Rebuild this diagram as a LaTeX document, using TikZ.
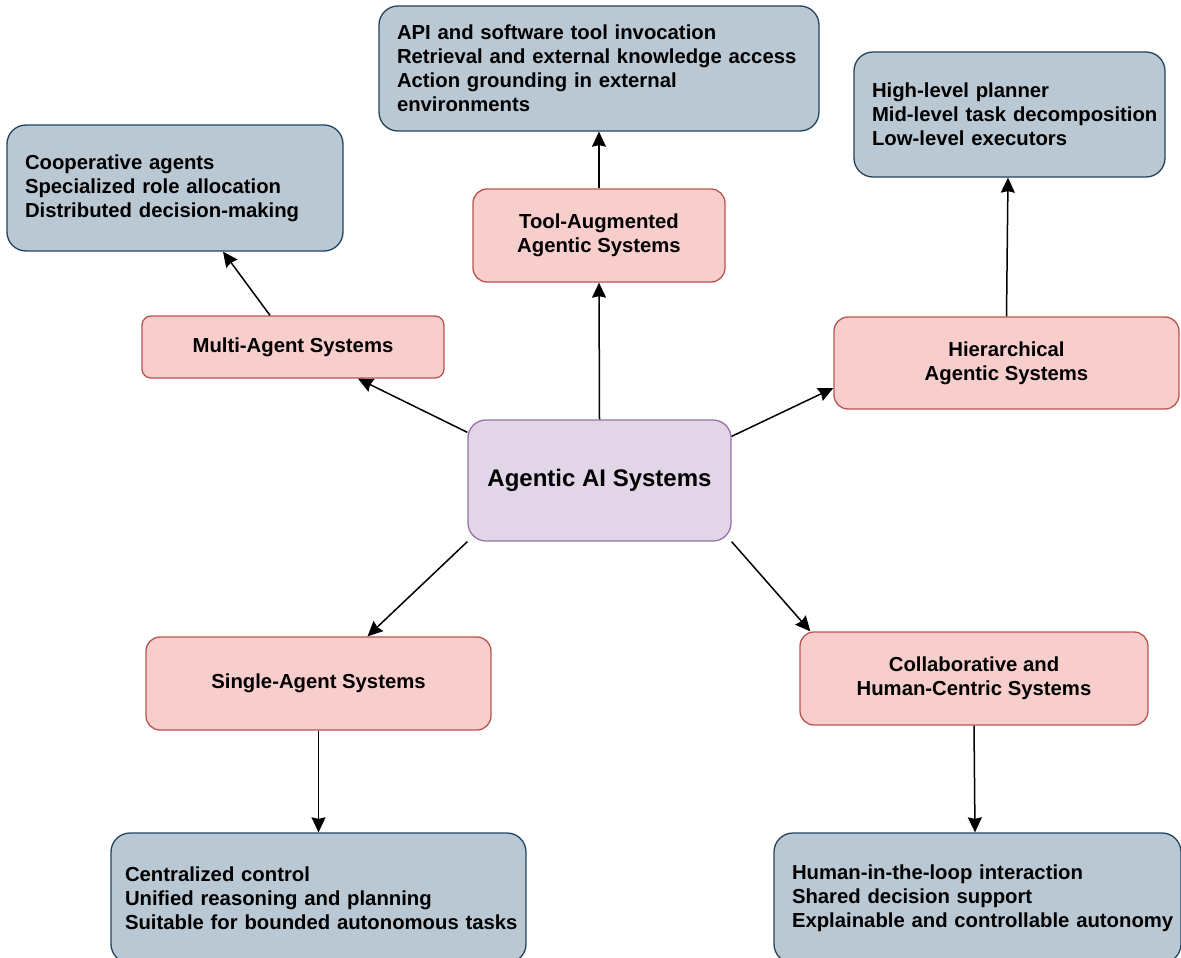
\documentclass[tikz,border=0pt]{standalone}
\usepackage{fontspec}
\setmainfont{Liberation Sans}
\usepackage{xcolor}
\definecolor{hubfill}{HTML}{E1D5E7}
\definecolor{hubline}{HTML}{9673A6}
\definecolor{typefill}{HTML}{F8CECC}
\definecolor{typeline}{HTML}{B85450}
\definecolor{notefill}{HTML}{BAC8D3}
\definecolor{noteline}{HTML}{23445D}
\usetikzlibrary{arrows.meta}

\begin{document}
\begin{tikzpicture}[x=1pt,y=-1pt,every node/.style={font=\fontsize{20.3}{24}\selectfont\bfseries}]
\tikzstyle{hub}=[draw=hubline,fill=hubfill,line width=1.3pt,rounded corners=18pt,align=center,minimum width=263pt,minimum height=121pt,font=\fontsize{24}{29}\selectfont\bfseries]
\tikzstyle{topic}=[draw=typeline,fill=typefill,line width=1.3pt,rounded corners=14pt,align=center]
\tikzstyle{note}=[draw=noteline,fill=notefill,line width=1.3pt,rounded corners=19pt,align=left,inner xsep=18pt,inner ysep=0pt]
\tikzstyle{link}=[-{Stealth[length=15pt,width=14pt,inset=1.5pt]},line width=1.5pt,black]
\useasboundingbox (0,0) rectangle (1181,958);
\node[hub] (hub) at (599.5,480.5) {Agentic AI Systems};
\node[topic,minimum width=252pt,minimum height=93pt] (tool) at (599,235.5) {Tool-Augmented\\Agentic Systems};
\node[topic,minimum width=302pt,minimum height=62pt,rounded corners=9pt] (multi) at (293,347) {Multi-Agent Systems};
\node[topic,minimum width=345pt,minimum height=92pt] (hier) at (1006.5,363) {Hierarchical\\Agentic Systems};
\node[topic,minimum width=345pt,minimum height=93pt] (single) at (318.5,683.5) {Single-Agent Systems};
\node[topic,minimum width=348pt,minimum height=93pt] (collab) at (974,678.5) {Collaborative and\\Human-Centric Systems};
\node[note,text width=404pt,minimum height=125pt] (toolnote) at (599,68.5) {API and software tool invocation\\\mbox{Retrieval and external knowledge access}\\Action grounding in external\\environments};
\node[note,text width=300pt,minimum height=126pt] (multinote) at (175,188) {Cooperative agents\\Specialized role allocation\\Distributed decision-making};
\node[note,text width=275pt,minimum height=125pt] (hiernote) at (1009.5,114.5) {High-level planner\\\mbox{Mid-level task decomposition}\\Low-level executors};
\node[note,text width=387pt,minimum height=130pt,inner xsep=14pt] (singlenote) at (318.5,898) {Centralized control\\Unified reasoning and planning\\\mbox{Suitable for bounded autonomous tasks}};
\node[note,text width=371pt,minimum height=130pt] (collabnote) at (977.5,898) {Human-in-the-loop interaction\\Shared decision support\\\mbox{Explainable and controllable autonomy}};
% from the hub
\draw[link] (hub.north) -- (tool.south);
\draw[link] ([yshift=-13pt]hub.north west) -- ([xshift=65pt]multi.south);
\draw[link] ([yshift=-17pt]hub.north east) -- ([yshift=-25pt]hier.west);
\draw[link] (hub.south west) -- ([xshift=49pt]single.north);
\draw[link] (hub.south east) -- ([xshift=11pt]collab.north west);
% to the notes
\draw[link] (tool.north) -- (toolnote.south);
\draw[link] ([xshift=-23pt]multi.north) -- ([xshift=48pt]multinote.south);
\draw[link] (hier.north) -- ([xshift=-1.5pt]hiernote.south);
\draw[link] (single.south) -- (singlenote.north);
\draw[link] (collab.south) -- ([xshift=-2.5pt]collabnote.north);
\end{tikzpicture}
\end{document}
